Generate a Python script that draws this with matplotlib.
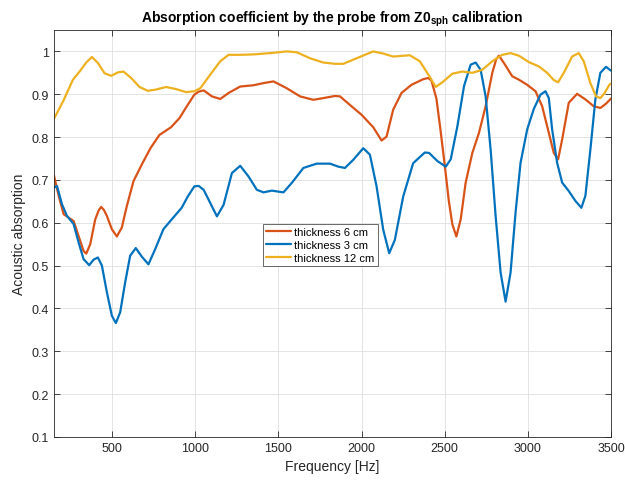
import matplotlib
matplotlib.use('Agg')
import matplotlib.pyplot as plt

plt.rcParams['font.family'] = ['Liberation Sans', 'DejaVu Sans']
plt.rcParams['mathtext.fontset'] = 'custom'
plt.rcParams['mathtext.rm'] = 'Liberation Sans'
plt.rcParams['mathtext.bf'] = 'Liberation Sans:bold'

# thickness 6 cm (red)
f6 = [150, 178, 208, 238, 268, 298, 328, 344, 368, 398, 420, 434, 450, 468, 498,
      528, 558, 588, 628, 678, 730, 784, 854, 904, 954, 994, 1020, 1050, 1100,
      1150, 1200, 1270, 1350, 1410, 1470, 1550, 1630, 1710, 1770, 1840, 1870,
      1930, 2000, 2070, 2120, 2150, 2190, 2240, 2300, 2370, 2400, 2420, 2450,
      2475, 2502, 2525, 2546, 2570, 2596, 2626, 2666, 2706, 2746, 2786, 2810,
      2826, 2856, 2906, 2946, 2996, 3046, 3086, 3126, 3156, 3182, 3206, 3246,
      3296, 3346, 3396, 3436, 3470, 3500]
a6 = [0.710, 0.663, 0.620, 0.612, 0.604, 0.569, 0.534, 0.528, 0.550, 0.608, 0.630,
      0.637, 0.630, 0.616, 0.585, 0.568, 0.589, 0.639, 0.697, 0.736, 0.774, 0.805,
      0.823, 0.844, 0.875, 0.899, 0.906, 0.909, 0.895, 0.889, 0.903, 0.918, 0.921,
      0.926, 0.930, 0.914, 0.895, 0.887, 0.891, 0.896, 0.895, 0.875, 0.852, 0.823,
      0.792, 0.801, 0.864, 0.903, 0.922, 0.935, 0.938, 0.932, 0.890, 0.815, 0.728,
      0.650, 0.596, 0.568, 0.608, 0.694, 0.763, 0.810, 0.872, 0.950, 0.982, 0.990,
      0.973, 0.942, 0.934, 0.922, 0.907, 0.872, 0.810, 0.763, 0.748, 0.794, 0.880,
      0.901, 0.888, 0.872, 0.868, 0.878, 0.890]

# thickness 3 cm (blue)
f3 = [150, 168, 198, 228, 268, 298, 328, 362, 388, 414, 438, 468, 498, 522, 548,
      578, 608, 642, 678, 718, 758, 808, 858, 918, 954, 994, 1020, 1050, 1090,
      1130, 1170, 1220, 1270, 1320, 1370, 1410, 1460, 1530, 1580, 1650, 1730,
      1810, 1860, 1900, 1950, 2010, 2050, 2090, 2130, 2166, 2200, 2250, 2310,
      2380, 2406, 2456, 2506, 2536, 2576, 2616, 2656, 2686, 2716, 2746, 2776,
      2806, 2836, 2866, 2896, 2926, 2956, 2996, 3036, 3076, 3106, 3126, 3146,
      3176, 3206, 3246, 3286, 3322, 3346, 3376, 3406, 3436, 3470, 3500]
a3 = [0.682, 0.686, 0.643, 0.616, 0.597, 0.554, 0.515, 0.501, 0.514, 0.519, 0.500,
      0.438, 0.383, 0.366, 0.391, 0.461, 0.523, 0.541, 0.521, 0.503, 0.538, 0.585,
      0.608, 0.635, 0.661, 0.685, 0.686, 0.677, 0.646, 0.615, 0.642, 0.716, 0.733,
      0.708, 0.677, 0.671, 0.675, 0.671, 0.693, 0.728, 0.738, 0.738, 0.731, 0.728,
      0.747, 0.774, 0.759, 0.685, 0.584, 0.529, 0.560, 0.661, 0.739, 0.764, 0.763,
      0.744, 0.731, 0.748, 0.825, 0.919, 0.969, 0.974, 0.957, 0.895, 0.771, 0.616,
      0.484, 0.416, 0.484, 0.624, 0.740, 0.818, 0.866, 0.899, 0.907, 0.891, 0.818,
      0.740, 0.694, 0.674, 0.651, 0.635, 0.663, 0.771, 0.888, 0.950, 0.964, 0.955]

# thickness 12 cm (yellow)
f12 = [150, 204, 264, 304, 344, 378, 414, 454, 494, 534, 568, 614, 664, 714, 764,
       824, 884, 944, 994, 1030, 1090, 1150, 1200, 1270, 1350, 1450, 1550, 1610,
       1690, 1770, 1840, 1890, 1970, 2070, 2130, 2190, 2290, 2350, 2406, 2446,
       2486, 2546, 2606, 2666, 2726, 2786, 2846, 2896, 2946, 3006, 3066, 3116,
       3156, 3182, 3216, 3266, 3306, 3336, 3376, 3410, 3436, 3462, 3490, 3500]
a12 = [0.843, 0.883, 0.934, 0.953, 0.974, 0.987, 0.973, 0.949, 0.943, 0.951, 0.953,
       0.938, 0.917, 0.908, 0.911, 0.917, 0.912, 0.905, 0.907, 0.914, 0.946, 0.977,
       0.992, 0.992, 0.993, 0.996, 1.000, 0.998, 0.984, 0.974, 0.971, 0.971, 0.984,
       1.000, 0.995, 0.988, 0.991, 0.977, 0.943, 0.917, 0.928, 0.948, 0.953, 0.950,
       0.957, 0.977, 0.992, 0.996, 0.990, 0.975, 0.965, 0.950, 0.933, 0.928, 0.950,
       0.988, 0.996, 0.977, 0.926, 0.895, 0.891, 0.903, 0.922, 0.925]

fig = plt.figure(figsize=(6.25, 4.81), dpi=100)
ax = fig.add_axes([0.0864, 0.0894, 0.8912, 0.8462])

for f, a, c, lab in [(f6, a6, '#D95319', 'thickness 6 cm'),
                     (f3, a3, '#0072BD', 'thickness 3 cm'),
                     (f12, a12, '#EDB120', 'thickness 12 cm')]:
    ax.plot(f, a, color=c, lw=1.6, label=lab,
            solid_joinstyle='round', solid_capstyle='round')

ax.set_xlim(150, 3500)
ax.set_ylim(0.1, 1.05)
ax.set_xticks([500, 1000, 1500, 2000, 2500, 3000, 3500])
ax.set_yticks([0.1, 0.2, 0.3, 0.4, 0.5, 0.6, 0.7, 0.8, 0.9, 1.0])
ax.set_yticklabels(['0.1', '0.2', '0.3', '0.4', '0.5', '0.6', '0.7', '0.8', '0.9', '1'])

ax.grid(True, color='#dfdfdf', lw=0.6)
ax.set_axisbelow(True)
ax.tick_params(direction='in', top=True, right=True, labelsize=9, colors='#262626',
               length=4, width=0.6)
for s in ax.spines.values():
    s.set_color('#262626')
    s.set_linewidth(0.6)

ax.set_xlabel('Frequency [Hz]', fontsize=10, color='#262626')
ax.set_ylabel('Acoustic absorption', fontsize=10, color='#262626')
ax.set_title(r'Absorption coefficient by the probe from Z0$_{\mathbf{sph}}$ calibration',
             fontsize=10, fontweight='bold', color='black')

leg = ax.legend(loc='lower left', bbox_to_anchor=(0.375, 0.42, 0.205, 0.118),
                fontsize=8, frameon=True, fancybox=False, borderpad=0.3,
                handlelength=2.2, handletextpad=0.3, labelspacing=0.25,
                borderaxespad=0)
leg.get_frame().set_edgecolor('#262626')
leg.get_frame().set_linewidth(0.6)

fig.savefig('out.png', dpi=100)
